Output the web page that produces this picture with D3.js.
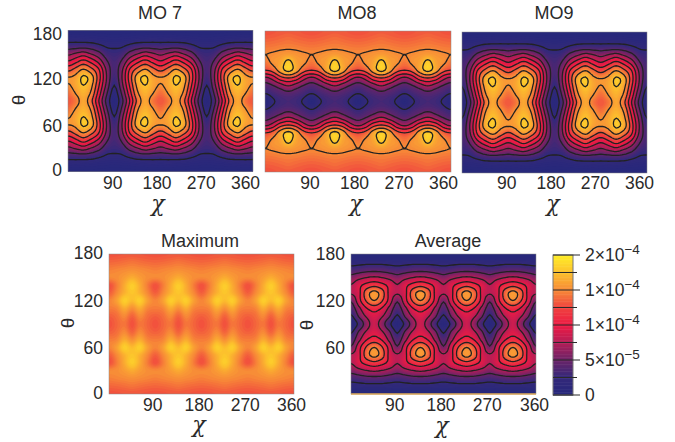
<!DOCTYPE html>
<html>
<head>
<meta charset="utf-8">
<script src="https://cdn.jsdelivr.net/npm/d3@7"></script>
<style>
  body { margin: 0; background: #fff; }
  text { font-family: "Liberation Sans", Arial, sans-serif; fill: #2a2a2a; }
</style>
</head>
<body>
<svg id="chart" width="675" height="442"></svg>
<script>
// values, in units of 1e-6
// columns are chi = 0,15,...,360, rows are theta = 0,10,...,90
// every panel is mirrored about theta = 90 so only the lower half is listed
const chiStep = 15;
const thetaStep = 10;

const mo7Half = [
  [2,2,2,2,2,1,1,1,2,2,2,2,2,2,2,2,2,1,1,1,2,2,2,2,2],
  [12,13,12,11,9,8,7,8,9,11,12,13,12,13,12,11,9,8,7,8,9,11,12,13,12],
  [33,34,35,33,27,20,19,20,27,33,35,34,33,34,35,33,27,20,19,20,27,33,35,34,33],
  [62,70,78,66,52,33,28,33,52,66,78,70,62,70,78,66,52,33,28,33,52,66,78,70,62],
  [92,105,120,105,82,48,33,48,82,105,120,105,92,105,120,105,82,48,33,48,82,105,120,105,92],
  [126,140,156,140,112,62,34,62,112,140,156,140,126,140,156,140,112,62,34,62,112,140,156,140,126],
  [155,160,180,165,120,66,30,66,120,165,180,160,155,160,180,165,120,66,30,66,120,165,180,160,155],
  [152,163,176,160,112,60,22,60,112,160,176,163,152,163,176,160,112,60,22,60,112,160,176,163,152],
  [140,155,168,150,100,48,13,48,100,150,168,155,140,155,168,150,100,48,13,48,100,150,168,155,140],
  [132,143,163,138,88,38,8,38,88,138,163,143,132,143,163,138,88,38,8,38,88,138,163,143,132]
];

const mo8Half = [
  [130,131,133,134,133,131,130,131,133,134,133,131,130,131,133,134,133,131,130,131,133,134,133,131,130],
  [135,136,138,140,138,136,135,136,138,140,138,136,135,136,138,140,138,136,135,136,138,140,138,136,135],
  [143,144,146,147,146,144,143,144,146,147,146,144,143,144,146,147,146,144,143,144,146,147,146,144,143],
  [150,152,155,158,155,152,150,152,155,158,155,152,150,152,155,158,155,152,150,152,155,158,155,152,150],
  [143,154,162,182,162,154,143,154,162,182,162,154,143,154,162,182,162,154,143,154,162,182,162,154,143],
  [125,135,162,182,162,135,125,135,162,182,162,135,125,135,162,182,162,135,125,135,162,182,162,135,125],
  [70,85,115,125,115,85,70,85,115,125,115,85,70,85,115,125,115,85,70,85,115,125,115,85,70],
  [40,48,62,75,62,48,40,48,62,75,62,48,40,48,62,75,62,48,40,48,62,75,62,48,40],
  [25,32,38,42,38,32,25,32,38,42,38,32,25,32,38,42,38,32,25,32,38,42,38,32,25],
  [5,22,30,33,30,22,5,22,30,33,30,22,5,22,30,33,30,22,5,22,30,33,30,22,5]
];

const mo9Half = [
  [1,1,2,2,2,2,2,2,2,2,2,1,1,1,2,2,2,2,2,2,2,2,2,1,1],
  [7,8,9,11,12,13,12,13,12,11,9,8,7,8,9,11,12,13,12,13,12,11,9,8,7],
  [19,20,27,33,35,34,33,34,35,33,27,20,19,20,27,33,35,34,33,34,35,33,27,20,19],
  [28,33,52,66,78,70,62,70,78,66,52,33,28,33,52,66,78,70,62,70,78,66,52,33,28],
  [33,48,82,105,120,105,92,105,120,105,82,48,33,48,82,105,120,105,92,105,120,105,82,48,33],
  [34,62,112,140,156,140,126,140,156,140,112,62,34,62,112,140,156,140,126,140,156,140,112,62,34],
  [30,66,120,165,180,160,155,160,180,165,120,66,30,66,120,165,180,160,155,160,180,165,120,66,30],
  [22,60,112,160,176,163,152,163,176,160,112,60,22,60,112,160,176,163,152,163,176,160,112,60,22],
  [13,48,100,150,168,155,140,155,168,150,100,48,13,48,100,150,168,155,140,155,168,150,100,48,13],
  [8,38,88,138,163,143,132,143,163,138,88,38,8,38,88,138,163,143,132,143,163,138,88,38,8]
];

const maximumHalf = [
  [130,131,132,133,132,131,130,131,132,133,132,131,130,131,132,133,132,131,130,131,132,133,132,131,130],
  [137,138,140,142,140,138,137,138,140,142,140,138,137,138,140,142,140,138,137,138,140,142,140,138,137],
  [146,148,150,152,150,148,146,148,150,152,150,148,146,148,150,152,150,148,146,148,150,152,150,148,146],
  [150,152,158,165,158,152,150,152,158,165,158,152,150,152,158,165,158,152,150,152,158,165,158,152,150],
  [130,145,165,182,165,145,130,145,165,182,165,145,130,145,165,182,165,145,130,145,165,182,165,145,130],
  [135,150,168,178,168,150,135,150,168,178,168,150,135,150,168,178,168,150,135,150,168,178,168,150,135],
  [148,160,183,172,183,160,148,160,183,172,183,160,148,160,183,172,183,160,148,160,183,172,183,160,148],
  [145,148,165,152,165,148,145,148,165,152,165,148,145,148,165,152,165,148,145,148,165,152,165,148,145],
  [135,140,150,136,150,140,135,140,150,136,150,140,135,140,150,136,150,140,135,140,150,136,150,140,135],
  [130,137,143,130,143,137,130,137,143,130,143,137,130,137,143,130,143,137,130,137,143,130,143,137,130]
];

const averageHalf = [
  [2,2,2,2,2,2,2,2,2,2,2,2,2,2,2,2,2,2,2,2,2,2,2,2,2],
  [16,17,18,18,18,17,16,17,18,18,18,17,16,17,18,18,18,17,16,17,18,18,18,17,16],
  [34,37,41,42,41,37,34,37,41,42,41,37,34,37,41,42,41,37,34,37,41,42,41,37,34],
  [58,67,74,78,74,67,58,67,74,78,74,67,58,67,74,78,74,67,58,67,74,78,74,67,58],
  [76,93,108,118,108,93,76,93,108,118,108,93,76,93,108,118,108,93,76,93,108,118,108,93,76],
  [78,92,138,157,138,92,78,92,138,157,138,92,78,92,138,157,138,92,78,92,138,157,138,92,78],
  [53,90,128,150,128,90,53,90,128,150,128,90,53,90,128,150,128,90,53,90,128,150,128,90,53],
  [38,68,98,110,98,68,38,68,98,110,98,68,38,68,98,110,98,68,38,68,98,110,98,68,38],
  [22,52,78,92,78,52,22,52,78,92,78,52,22,52,78,92,78,52,22,52,78,92,78,52,22],
  [8,30,62,85,62,30,8,30,62,85,62,30,8,30,62,85,62,30,8,30,62,85,62,30,8]
];

const chiTicks = [90, 180, 270, 360];
const thetaTicks = [0, 60, 120, 180];
const averageThetaTicks = [60, 120, 180];
// MO7 and MO9 have one contour more than the others
const contourLevels = [25, 50, 75, 100, 125, 150, 175];
const denseContourLevels = [22, 44, 66, 88, 110, 132, 154, 176];
const barMajorTicks = [0, 50, 100, 150, 200];
const barMinorTicks = [25, 75, 125, 175];
const barBases = ["0", "5×10", "1×10", "1×10", "2×10"];
const barExponents = ["", "−5", "−4", "−4", "−4"];

const colorStops = [0, 25, 50, 75, 100, 125, 150, 175, 200];
const colorValues = ["#26287b", "#33297a", "#6a2469", "#b31e57", "#ec1b45", "#f0423f", "#f78a38", "#fcc02d", "#ffee28"];
const color = d3.scaleLinear().domain(colorStops).range(colorValues);

const svg = d3.select("#chart");
const defs = svg.append("defs");

const pad = 2;       // cells added around the grid so contours run past the frame
const smooth = 4;    // drawing resolution per cell, the nodes keep the read values

function fullGrid(half) {
  // mirror about theta = 90, then continue the pattern past every edge
  let rows = half.concat(half.slice(0, -1).reverse());
  rows = [rows[2], rows[1]].concat(rows, [rows[rows.length - 2], rows[rows.length - 3]]);
  return rows.map(r => [r[r.length - 3], r[r.length - 2]].concat(r, [r[1], r[2]]));
}

function cubic(a, b, c, d, t) {
  return b + 0.5 * t * (c - a + t * (2 * a - 5 * b + 4 * c - d + t * (3 * (b - c) + d - a)));
}

// same idea as shading an image with a smooth filter: only for drawing
function refine(grid) {
  let ny = grid.length, nx = grid[0].length;
  let out = [];
  let at = (j, i) => grid[Math.max(0, Math.min(ny - 1, j))][Math.max(0, Math.min(nx - 1, i))];
  for (let j = 0; j < (ny - 1) * smooth + 1; j++) {
    let j0 = Math.floor(j / smooth), tj = j / smooth - j0;
    for (let i = 0; i < (nx - 1) * smooth + 1; i++) {
      let i0 = Math.floor(i / smooth), ti = i / smooth - i0;
      let col = [-1, 0, 1, 2].map(dj => cubic(at(j0 + dj, i0 - 1), at(j0 + dj, i0), at(j0 + dj, i0 + 1), at(j0 + dj, i0 + 2), ti));
      out.push(cubic(col[0], col[1], col[2], col[3], tj));
    }
  }
  return { values: out, nx: (nx - 1) * smooth + 1, ny: (ny - 1) * smooth + 1 };
}

function drawPanel(p, i) {
  let x = d3.scaleLinear().domain([0, 360]).range([p.left, p.left + p.width]);
  let y = d3.scaleLinear().domain([0, 180]).range([p.top + p.height, p.top]);

  let fine = refine(fullGrid(p.half));
  let chiOf = cx => ((cx - 0.5) / smooth - pad) * chiStep;
  let thetaOf = cy => ((cy - 0.5) / smooth - pad) * thetaStep;

  defs.append("clipPath").attr("id", "clip" + i)
    .append("rect")
    .attr("x", p.left).attr("y", p.top)
    .attr("width", p.width).attr("height", p.height);

  let g = svg.append("g");
  let plot = g.append("g").attr("clip-path", "url(#clip" + i + ")");

  let project = d3.geoTransform({
    point: function(cx, cy) { this.stream.point(x(chiOf(cx)), y(thetaOf(cy))); }
  });
  let path = d3.geoPath(project);
  let bands = d3.range(-9, 210, 3);
  let contours = d3.contours().size([fine.nx, fine.ny]);

  plot.selectAll("path.band")
    .data(contours.thresholds(bands)(fine.values))
    .join("path")
    .attr("class", "band")
    .attr("d", path)
    .attr("fill", d => color(Math.max(0, d.value + 1.5)));

  if (p.levels) {
    plot.selectAll("path.level")
      .data(contours.thresholds(p.levels)(fine.values))
      .join("path")
      .attr("class", "level")
      .attr("d", path)
      .attr("fill", "none")
      .attr("stroke", "#222")
      .attr("stroke-width", 1.3);
  }

  if (p.baseLine) {
    g.append("line")
      .attr("x1", x(0)).attr("x2", x(360))
      .attr("y1", y(0)).attr("y2", y(0))
      .attr("stroke", "#f6b24a")
      .attr("stroke-width", 1.5);
  }

  g.append("rect")
    .attr("x", p.left).attr("y", p.top)
    .attr("width", p.width).attr("height", p.height)
    .attr("fill", "none")
    .attr("stroke", "#8a8a8a")
    .attr("stroke-width", 0.5);

  // x axis, no tick marks in the original
  let xAxis = g.append("g")
    .attr("transform", "translate(0," + p.xLabelY + ")")
    .call(d3.axisBottom(x).tickValues(chiTicks).tickSize(0).tickPadding(0));
  xAxis.select(".domain").remove();
  xAxis.selectAll("text")
    .attr("y", 0).attr("dy", "0.35em")
    .attr("dx", d => p.xNudge(d))
    .style("font-size", "17.5px")
    .style("font-family", null);

  g.append("text")
    .attr("x", p.chiX).attr("y", p.chiY)
    .attr("text-anchor", "middle")
    .attr("dy", "0.2em")
    .style("font-family", "'DejaVu Serif', serif")
    .style("font-style", "italic")
    .style("font-size", "22px")
    .text("χ");

  g.append("text")
    .attr("x", p.titleX).attr("y", p.titleY)
    .attr("text-anchor", "middle")
    .attr("dy", "0.35em")
    .style("font-size", "18px")
    .text(p.title);

  if (p.thetaTicks) {
    let yAxis = g.append("g")
      .attr("transform", "translate(" + p.yLabelX + ",0)")
      .call(d3.axisLeft(y).tickValues(p.thetaTicks).tickSize(0).tickPadding(0));
    yAxis.select(".domain").remove();
    yAxis.selectAll("text")
      .attr("x", 0).attr("dy", "0.35em")
      .attr("transform", d => "translate(0," + p.yNudge(d) + ")")
      .style("font-size", "17.5px")
      .style("font-family", null);

    g.append("text")
      .attr("transform", "translate(" + p.thetaX + "," + p.thetaY + ") rotate(-90)")
      .attr("text-anchor", "middle")
      .attr("dy", "0.35em")
      .style("font-size", "19px")
      .text("θ");
  }
}

const panels = [
  { title: "MO 7", half: mo7Half, levels: denseContourLevels, left: 68, top: 30.5, width: 185, height: 141,
    titleX: 160, titleY: 13, xLabelY: 183, chiX: 158, chiY: 207, xNudge: d => -d / 45,
    thetaTicks: thetaTicks, yLabelX: 62, yNudge: d => d === 180 ? 3 : d === 0 ? -2 : 1, thetaX: 18, thetaY: 100 },
  { title: "MO8", half: mo8Half, levels: contourLevels, left: 265, top: 31, width: 186, height: 141,
    titleX: 357, titleY: 13, xLabelY: 183, chiX: 356, chiY: 207, xNudge: d => -d / 45 },
  { title: "MO9", half: mo9Half, levels: denseContourLevels, left: 462, top: 32, width: 185, height: 141,
    titleX: 554, titleY: 13, xLabelY: 183, chiX: 553, chiY: 207, xNudge: d => -d / 45 },
  { title: "Maximum", half: maximumHalf, levels: null, left: 109, top: 254, width: 185, height: 140,
    titleX: 200, titleY: 241, xLabelY: 405, chiX: 199, chiY: 428, xNudge: d => -3,
    thetaTicks: thetaTicks, yLabelX: 103, yNudge: d => d === 180 || d === 0 ? -2 : 0, thetaX: 67, thetaY: 323 },
  { title: "Average", half: averageHalf, levels: contourLevels, baseLine: true, left: 351, top: 254, width: 185, height: 140,
    titleX: 448, titleY: 241, xLabelY: 405, chiX: 442, chiY: 429, xNudge: d => d === 360 ? -2 : -3,
    thetaTicks: averageThetaTicks, yLabelX: 345, yNudge: d => d === 180 ? -1 : 0, thetaX: 306, thetaY: 325 }
];

panels.forEach(drawPanel);

// colour bar
function drawColorBar() {
  let left = 553, barWidth = 20;
  let c = d3.scaleLinear().domain([0, 200]).range([395, 255]);
  let g = svg.append("g");

  g.selectAll("rect.step")
    .data(d3.range(0, 200, 2))
    .join("rect")
    .attr("class", "step")
    .attr("x", left).attr("width", barWidth)
    .attr("y", d => c(d + 2))
    .attr("height", d => c(d) - c(d + 2) + 0.5)
    .attr("fill", d => color(d + 1));

  g.append("rect")
    .attr("x", left).attr("y", c(200))
    .attr("width", barWidth).attr("height", c(0) - c(200))
    .attr("fill", "none").attr("stroke", "#777").attr("stroke-width", 1);

  g.selectAll("line.tick")
    .data(barMajorTicks.concat(barMinorTicks))
    .join("line")
    .attr("class", "tick")
    .attr("x1", left)
    .attr("x2", d => left + barWidth + (barMajorTicks.includes(d) ? 7 : 4))
    .attr("y1", d => c(d)).attr("y2", d => c(d))
    .attr("stroke", "#2a2a2a")
    .attr("stroke-width", 1);

  let labels = g.selectAll("text.bar")
    .data(barMajorTicks)
    .join("text")
    .attr("class", "bar")
    .attr("x", 585)
    .attr("y", d => c(d) + 6)
    .style("font-size", "17.5px");
  labels.append("tspan").text((d, i) => barBases[i]);
  labels.append("tspan")
    .attr("dy", -7)
    .style("font-size", "13.5px")
    .text((d, i) => barExponents[i]);
}

drawColorBar();
</script>
</body>
</html>
